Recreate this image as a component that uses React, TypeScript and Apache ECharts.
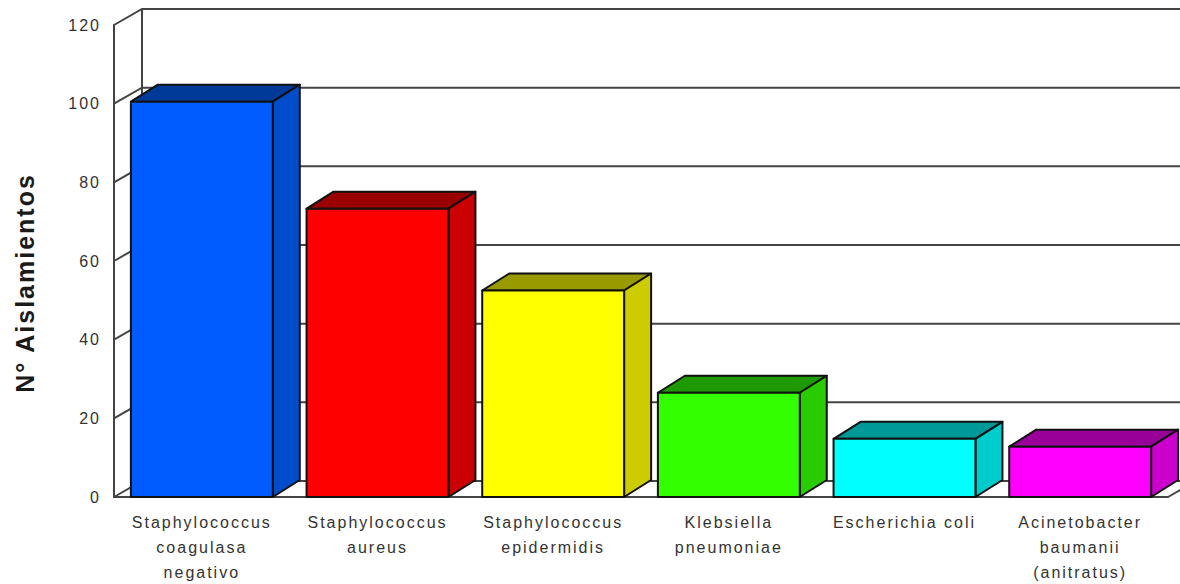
import React, { useEffect, useRef } from "react";
import * as echarts from "echarts";

const categories = [
  "Staphylococcus\ncoagulasa\nnegativo",
  "Staphylococcus\naureus",
  "Staphylococcus\nepidermidis",
  "Klebsiella\npneumoniae",
  "Escherichia coli",
  "Acinetobacter\nbaumanii\n(anitratus)",
];
const aislamientos = [100.5, 73.3, 52.5, 26.5, 14.8, 12.8];
const frontColors = ["#005cff", "#ff0000", "#ffff00", "#33ff00", "#00ffff", "#ff00ff"];
const topColors = ["#003a99", "#990000", "#999900", "#1f9900", "#009999", "#990099"];
const sideColors = ["#004dcc", "#cc0000", "#cccc00", "#29cc00", "#00cccc", "#cc00cc"];
const wallTicks = [0, 20, 40, 60, 80, 100, 120];

const WALL_DX = 28;
const WALL_DY = -16;
const BAR_DX = 27;
const BAR_DY = -17;
const BAR_RATIO = 142 / 175.8;
const LINE = "#444444";

// Back wall: a diagonal from the axis to the wall, then a rule running right.
const renderWall = (params: any, api: any) => {
  const v = api.value(0);
  const [, y] = api.coord([0, v]);
  const g = params.coordSys;
  const left = g.x;
  const right = g.x + g.width;
  const style = { stroke: LINE, lineWidth: 2, fill: "none" };
  const children: any[] = [
    {
      type: "polyline",
      shape: {
        points: [
          [left, y],
          [left + WALL_DX, y + WALL_DY],
          [right + WALL_DX + 20, y + WALL_DY],
        ],
      },
      style,
    },
  ];
  if (v === 0) {
    const [, yTop] = api.coord([0, 120]);
    children.push(
      {
        type: "line",
        shape: { x1: left + WALL_DX, y1: y + WALL_DY, x2: left + WALL_DX, y2: yTop + WALL_DY },
        style,
      },
      {
        type: "line",
        shape: { x1: right, y1: y, x2: right + WALL_DX, y2: y + WALL_DY },
        style,
      }
    );
  }
  return { type: "group", children };
};

// Extruded bar: front face, top face and right side.
const renderBar = (params: any, api: any) => {
  const i = api.value(0);
  const [cx, yTop] = api.coord([i, api.value(1)]);
  const [, yBase] = api.coord([i, 0]);
  const w = api.size([1, 0])[0] * BAR_RATIO;
  const l = cx - w / 2;
  const r = cx + w / 2;
  const edge = { stroke: "#111111", lineWidth: 2, lineJoin: "round" };
  return {
    type: "group",
    children: [
      {
        type: "polygon",
        shape: {
          points: [
            [l, yTop],
            [l + BAR_DX, yTop + BAR_DY],
            [r + BAR_DX, yTop + BAR_DY],
            [r, yTop],
          ],
        },
        style: { fill: topColors[i], ...edge },
      },
      {
        type: "polygon",
        shape: {
          points: [
            [r, yTop],
            [r + BAR_DX, yTop + BAR_DY],
            [r + BAR_DX, yBase + BAR_DY],
            [r, yBase],
          ],
        },
        style: { fill: sideColors[i], ...edge },
      },
      {
        type: "rect",
        shape: { x: l, y: yTop, width: w, height: yBase - yTop },
        style: { fill: frontColors[i], ...edge },
      },
    ],
  };
};

export default function App() {
  const ref = useRef<HTMLDivElement>(null);

  useEffect(() => {
    const chart = echarts.init(ref.current!, undefined, { renderer: "svg" });
    chart.setOption({
      animation: false,
      backgroundColor: "#ffffff",
      grid: { left: 114, right: 12, top: 25, bottom: 87, outerBoundsMode: "none" },
      graphic: [
        {
          type: "text",
          x: 25,
          y: 283,
          rotation: Math.PI / 2,
          style: {
            text: "N° Aislamientos",
            font: "bold 25px 'Liberation Sans'",
            fill: "#1a1a1a",
            textAlign: "center",
            textVerticalAlign: "middle",
          },
        },
      ],
      xAxis: {
        type: "category",
        data: categories,
        axisTick: { show: false },
        axisLine: { lineStyle: { color: LINE, width: 2 } },
        axisLabel: {
          interval: 0,
          margin: 13,
          lineHeight: 25,
          fontSize: 16,
          fontFamily: "'Liberation Sans'",
          color: "#333333",
        },
      },
      yAxis: {
        type: "value",
        min: 0,
        max: 120,
        interval: 20,
        splitLine: { show: false },
        axisTick: { show: false },
        axisLine: { show: true, lineStyle: { color: LINE, width: 2 } },
        axisLabel: {
          margin: 13,
          fontSize: 16,
          fontFamily: "'Liberation Sans'",
          color: "#333333",
        },
      },
      series: [
        {
          type: "custom",
          name: "Pared",
          data: wallTicks.map((t) => [t]),
          encode: { y: 0 },
          renderItem: renderWall,
          silent: true,
          z: 1,
        },
        {
          type: "custom",
          name: "N° Aislamientos",
          data: aislamientos.map((v, i) => [i, v]),
          encode: { x: 0, y: 1 },
          renderItem: renderBar,
          z: 2,
        },
      ],
    });
    return () => chart.dispose();
  }, []);

  return (
    <>
      <style>{`#chart text { letter-spacing: 2px; }`}</style>
      <div
        id="chart"
        ref={ref}
        style={{ position: "absolute", left: 0, top: 0, width: 1180, height: 584, overflow: "hidden" }}
      />
    </>
  );
}
